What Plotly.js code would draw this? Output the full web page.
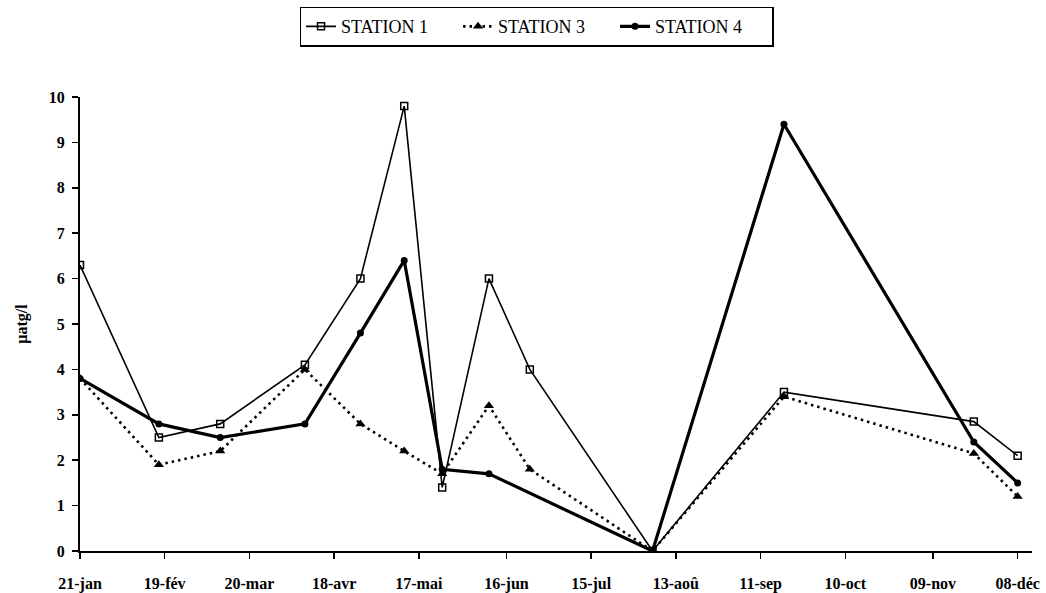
<!DOCTYPE html>
<html>
<head>
<meta charset="utf-8">
<script src="https://cdn.plot.ly/plotly-3.0.1.min.js"></script>
<style>html,body{margin:0;padding:0;background:#fff;}#chart{width:1046px;height:593px;}</style>
</head>
<body>
<div id="chart"></div>
<script>
// Sampling dates (year arbitrary, non-leap)
const dates = ['1990-01-21','1990-02-17','1990-03-10','1990-04-08','1990-04-27','1990-05-12','1990-05-25','1990-06-10','1990-06-24','1990-08-05','1990-09-19','1990-11-23','1990-12-08'];
const station1 = [6.3, 2.5, 2.8, 4.1, 6.0, 9.8, 1.4, 6.0, 4.0, 0.0, 3.5, 2.85, 2.1];
const station3 = [3.8, 1.9, 2.2, 4.0, 2.8, 2.2, 1.7, 3.2, 1.8, 0.0, 3.4, 2.15, 1.2];
const station4 = [3.8, 2.8, 2.5, 2.8, 4.8, 6.4, 1.8, 1.7, null, 0.0, 9.4, 2.4, 1.5];
const seriesNames = ['STATION 1', 'STATION 3', 'STATION 4'];
const tickDates = ['1990-01-21','1990-02-19','1990-03-20','1990-04-18','1990-05-17','1990-06-16','1990-07-15','1990-08-13','1990-09-11','1990-10-10','1990-11-09','1990-12-08'];
const tickLabels = ['21-jan','19-fév','20-mar','18-avr','17-mai','16-jun','15-jul','13-aoû','11-sep','10-oct','09-nov','08-déc'];
const yTitle = 'µatg/l';

const serif = '"Liberation Serif", "Times New Roman", serif';
const xRange = ['1990-01-21', '1990-12-12 22:00'];

const traces = [
  {x: dates, y: station1, name: seriesNames[0], type: 'scatter', mode: 'lines+markers',
   line: {color: '#000', width: 1.6},
   marker: {symbol: 'square-open', size: 7, color: '#000', line: {width: 1.5, color: '#000'}}},
  {x: dates, y: station3, name: seriesNames[1], type: 'scatter', mode: 'lines+markers',
   line: {color: '#000', width: 2.6, dash: '2.5px,4px'},
   marker: {symbol: 'triangle-up', size: 9, color: '#000'}},
  {x: dates, y: station4, name: seriesNames[2], type: 'scatter', mode: 'lines+markers', connectgaps: true,
   line: {color: '#000', width: 3.2},
   marker: {symbol: 'circle', size: 7, color: '#000'}}
];

const layout = {
  width: 1046, height: 593,
  margin: {l: 80, r: 14, t: 97, b: 42, autoexpand: false},
  paper_bgcolor: '#fff', plot_bgcolor: '#fff',
  font: {family: serif, color: '#000'},
  showlegend: true,
  legend: {
    orientation: 'h', x: 0.2306, xanchor: 'left', y: 1.199, yanchor: 'top',
    bordercolor: '#000', borderwidth: 1.5, bgcolor: '#fff',
    font: {family: serif, size: 18, color: '#000'},
    entrywidth: 112, entrywidthmode: 'pixels',
    itemwidth: 30, tracegroupgap: 0
  },
  xaxis: {
    type: 'date', range: xRange,
    tickvals: tickDates, ticktext: tickLabels,
    showgrid: false, zeroline: false,
    showline: true, linecolor: '#000', linewidth: 2,
    ticks: 'outside', ticklen: 6, tickwidth: 1.5, tickcolor: '#000',
    ticklabelstandoff: 11,
    tickfont: {family: serif, size: 16, color: '#000', weight: 'bold'}
  },
  xaxis2: {
    type: 'date', range: xRange, overlaying: 'x', anchor: 'y',
    tickvals: tickDates, showticklabels: false,
    showgrid: false, zeroline: false, showline: false,
    ticks: 'inside', ticklen: 6, tickwidth: 1.5, tickcolor: '#000'
  },
  yaxis: {
    range: [0, 10], dtick: 1, tick0: 0,
    showgrid: false, zeroline: false,
    showline: true, linecolor: '#000', linewidth: 2,
    ticks: 'outside', ticklen: 6, tickwidth: 1.5, tickcolor: '#000',
    ticklabelstandoff: 4,
    tickfont: {family: serif, size: 16, color: '#000', weight: 'bold'},
    title: {text: yTitle, standoff: 17, font: {family: serif, size: 16, color: '#000', weight: 'bold'}}
  },
  yaxis2: {
    range: [0, 10], dtick: 1, tick0: 0, overlaying: 'y', anchor: 'x',
    showticklabels: false, showgrid: false, zeroline: false, showline: false,
    ticks: 'inside', ticklen: 6, tickwidth: 1.5, tickcolor: '#000'
  }
};

Plotly.newPlot('chart', traces, layout, {staticPlot: true, displayModeBar: false});
</script>
</body>
</html>
